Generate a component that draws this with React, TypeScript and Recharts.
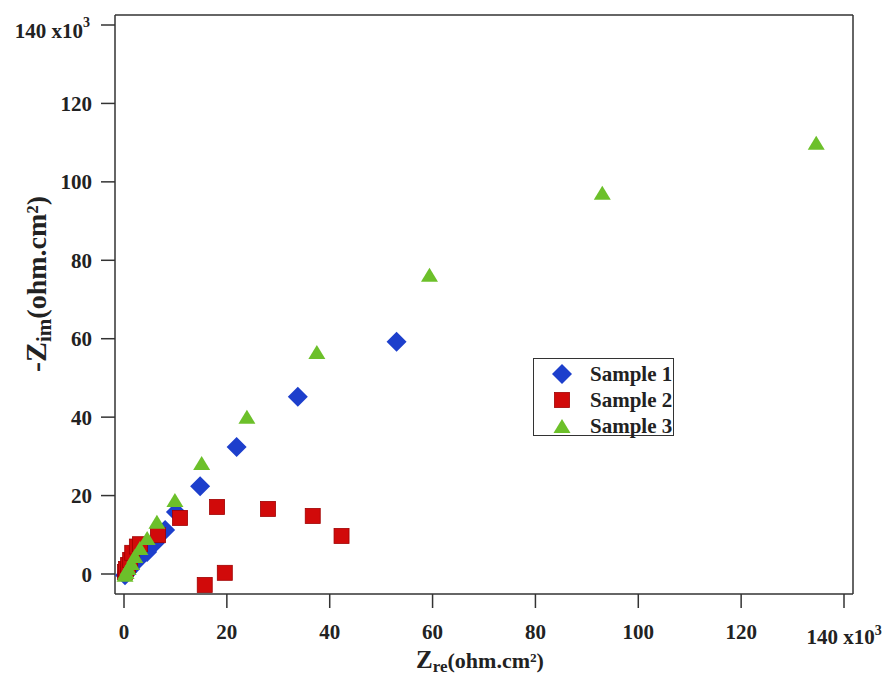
import { ScatterChart, Scatter, XAxis, YAxis, Legend, Label, ReferenceLine } from 'recharts';

// Nyquist data, values in 10^3 ohm.cm²
const sample1 = [
  [0.2, -0.3], [0.6, 0.5], [1.2, 1.3], [1.9, 2.6], [3.1, 4.1], [4.5, 5.6], [6.0, 7.9],
  [8.0, 11.2], [10.1, 15.8], [14.8, 22.4], [21.9, 32.4], [33.8, 45.2], [53.0, 59.2],
];
const sample2 = [
  [0.2, 0.5], [0.4, 1.3], [0.8, 2.3], [1.2, 3.6], [1.6, 5.4], [2.5, 7.0], [3.1, 7.6],
  [6.6, 9.9], [10.9, 14.3], [18.1, 17.1], [28.0, 16.6], [36.7, 14.8], [42.3, 9.7],
  [19.6, 0.3], [15.7, -2.8],
];
const sample3 = [
  [0.2, -0.2], [0.4, 0.5], [0.8, 1.5], [1.4, 2.8], [2.1, 4.6], [3.1, 6.6], [4.5, 9.2],
  [6.4, 13.3], [9.9, 18.9], [15.1, 28.3], [23.9, 40.1], [37.5, 56.6], [59.4, 76.3],
  [93.0, 97.2], [134.6, 110.0],
];
const seriesNames = ['Sample 1', 'Sample 2', 'Sample 3'];
const seriesColors = ['#1d3fcc', '#d10a0a', '#6cc02a'];
const xTicks = [0, 20, 40, 60, 80, 100, 120, 140];
const yTicks = [0, 20, 40, 60, 80, 100, 120, 140];
const xDomain = [-1.75, 141.75];
const yDomain = [-5.1, 142.55];

const FONT = '"Liberation Serif", "Times New Roman", serif';
const AXIS = '#333';

const toPoints = (arr: number[][]) => arr.map(([x, y]) => ({ x, y }));

const drawMarker = (kind: number, cx: number, cy: number, color: string) => {
  if (kind === 0) {
    const r = 10;
    return <polygon points={`${cx},${cy - r} ${cx + r},${cy} ${cx},${cy + r} ${cx - r},${cy}`} fill={color} />;
  }
  if (kind === 1) {
    return <rect x={cx - 7.5} y={cy - 7.5} width={15} height={15} fill={color} stroke="#a00000" strokeWidth={0.8} />;
  }
  return <polygon points={`${cx},${cy - 7} ${cx + 8.5},${cy + 7} ${cx - 8.5},${cy + 7}`} fill={color} />;
};

const XTick = ({ x, y, payload }: any) => {
  if (payload.value === 140) {
    return (
      <text x={x} y={y + 34} textAnchor="middle" fontFamily={FONT} fontWeight="bold" fontSize={21} fill="#222">
        140 x10<tspan dy={-9} fontSize={14}>3</tspan>
      </text>
    );
  }
  return (
    <text x={x} y={y + 29} textAnchor="middle" fontFamily={FONT} fontWeight="bold" fontSize={21} fill="#222">
      {payload.value}
    </text>
  );
};

const YTick = ({ x, y, payload }: any) => {
  if (payload.value === 140) {
    return (
      <text x={x - 9} y={y + 13} textAnchor="end" fontFamily={FONT} fontWeight="bold" fontSize={21} fill="#222">
        140 x10<tspan dy={-11} fontSize={14}>3</tspan>
      </text>
    );
  }
  return (
    <text x={x - 7} y={y + 7.5} textAnchor="end" fontFamily={FONT} fontWeight="bold" fontSize={21} fill="#222">
      {payload.value}
    </text>
  );
};

const LegendBox = () => (
  <div
    style={{
      width: 141,
      height: 78,
      border: `1.5px solid ${AXIS}`,
      background: '#fff',
      boxSizing: 'border-box',
      fontFamily: FONT,
      fontWeight: 'bold',
      fontSize: 21,
      color: '#222',
    }}
  >
    {seriesNames.map((name, i) => (
      <div key={name} style={{ display: 'flex', alignItems: 'center', height: 26, marginTop: i === 0 ? 2 : 0 }}>
        <svg width={56} height={26}>
          {drawMarker(i, 28, 13, seriesColors[i])}
        </svg>
        <span style={{ lineHeight: '26px' }}>{name}</span>
      </div>
    ))}
  </div>
);

export default function App() {
  const datasets = [sample1, sample2, sample3];
  return (
    <div style={{ position: 'absolute', left: 0, top: 0, width: 883, height: 677, background: '#fff' }}>
      <ScatterChart width={883} height={677} margin={{ top: 15, right: 30, bottom: 0, left: 15 }}>
        <XAxis
          dataKey="x"
          type="number"
          domain={xDomain}
          ticks={xTicks}
          interval={0}
          allowDataOverflow
          height={83}
          tickSize={14}
          axisLine={{ stroke: AXIS, strokeWidth: 1.5 }}
          tickLine={{ stroke: AXIS, strokeWidth: 1.5 }}
          tick={<XTick />}
        >
          <Label
            content={() => (
              <text x={480} y={668} textAnchor="middle" fontFamily={FONT} fontWeight="bold" fill="#222">
                <tspan fontSize={25}>Z</tspan>
                <tspan fontSize={17} dy={4}>re</tspan>
                <tspan fontSize={22} dy={-4}>(ohm.cm²)</tspan>
              </text>
            )}
          />
        </XAxis>
        <YAxis
          dataKey="y"
          type="number"
          domain={yDomain}
          ticks={yTicks}
          interval={0}
          allowDataOverflow
          width={100}
          tickSize={14}
          axisLine={{ stroke: AXIS, strokeWidth: 1.5 }}
          tickLine={{ stroke: AXIS, strokeWidth: 1.5 }}
          tick={<YTick />}
        >
          <Label
            content={() => (
              <text transform="rotate(-90)" x={-284} y={46} textAnchor="middle" fontFamily={FONT} fontWeight="bold" fill="#222">
                <tspan fontSize={30}>-Z</tspan>
                <tspan fontSize={21} dy={5}>im</tspan>
                <tspan fontSize={28} dy={-5}>(ohm.cm²)</tspan>
              </text>
            )}
          />
        </YAxis>
        <ReferenceLine y={yDomain[1]} stroke={AXIS} strokeWidth={1.5} ifOverflow="visible" />
        <ReferenceLine x={xDomain[1]} stroke={AXIS} strokeWidth={1.5} ifOverflow="visible" />
        {datasets.map((d, i) => (
          <Scatter
            key={seriesNames[i]}
            name={seriesNames[i]}
            data={toPoints(d)}
            fill={seriesColors[i]}
            isAnimationActive={false}
            shape={(p: any) => drawMarker(i, p.cx, p.cy, seriesColors[i])}
          />
        ))}
        <Legend
          layout="vertical"
          align="center"
          verticalAlign="middle"
          content={() => <LegendBox />}
          wrapperStyle={{ position: 'absolute', left: 533, top: 358, width: 141, height: 78 }}
        />
      </ScatterChart>
    </div>
  );
}
